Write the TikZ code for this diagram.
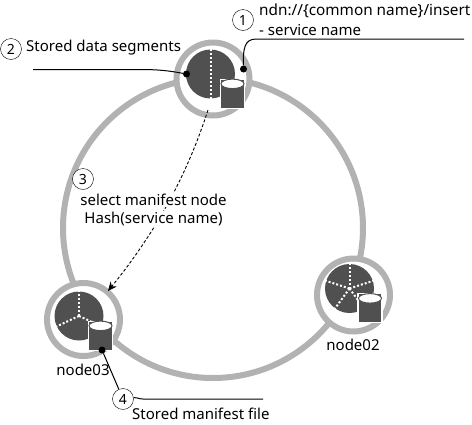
\documentclass[tikz,border=0pt]{standalone}
\usepackage{fontspec}
\setmainfont{Noto Sans}
\usetikzlibrary{shapes.geometric,arrows.meta}
\definecolor{ringgray}{HTML}{B2B2B2}
\definecolor{piegray}{HTML}{505050}
\tikzset{
  ring/.style={circle,draw=ringgray,line width=6pt,fill=white,minimum size=73pt,inner sep=0pt},
  pie/.style={circle,fill=piegray,minimum size=49pt,inner sep=0pt},
  spoke/.style={draw=white,line width=2pt,dash pattern=on 2pt off 2pt},
  can/.style={cylinder,shape border rotate=90,aspect=1.3,minimum width=24pt,minimum height=29pt,inner sep=0pt,
    draw=white,line width=1.2pt,fill=piegray},
  cancap/.style={ellipse,anchor=north,minimum width=23pt,minimum height=9.5pt,inner sep=0pt,
    draw=piegray,line width=1pt,fill=white},
  badge/.style={circle,draw,fill=white,minimum size=21pt,inner sep=0pt,font=\fontsize{14}{14}\selectfont},
  lbl/.style={font=\fontsize{15}{15}\selectfont,inner sep=0pt},
  lblfill/.style={lbl,inner sep=1pt,fill=white},
  dot/.style={circle,fill=black,minimum size=7pt,inner sep=0pt},
  leader/.style={draw=black,line width=1pt}
}
\begin{document}
\begin{tikzpicture}[x=1pt,y=-1pt]
\useasboundingbox (0,0) rectangle (472,424);
\node[circle,draw=ringgray,line width=6pt,minimum size=300pt,inner sep=0pt] (bigring) at (213,228) {};
% top node
\node[ring] (ring01) at (213,79) {};
\node[pie] (pie01) at (210.5,74) {};
\draw[spoke] (pie01.north) -- (pie01.south);
\node[can] (can01) at (232.5,94) {};
\node[cancap] (cap01) at (can01.north) {};
% node02
\node[ring] (ring02) at (353.5,295) {};
\node[pie] (pie02) at (349.5,288.5) {};
\foreach \a in {90,162,18,234,-54} \draw[spoke] (pie02.center) -- (pie02.\a);
\node[can] (can02) at (370,308.5) {};
\node[cancap] (cap02) at (can02.north) {};
% node03
\node[ring] (ring03) at (83.5,319.5) {};
\node[pie] (pie03) at (79,316) {};
\foreach \a in {90,205,-25} \draw[spoke] (pie03.center) -- (pie03.\a);
\node[can] (can03) at (100.5,336) {};
\node[cancap] (cap03) at (can03.north) {};
% arrow goes under the text
\coordinate (s3) at (208,110);
\coordinate (e3) at (108,291);
\draw[-{Stealth[length=9pt,width=8pt]},dash pattern=on 3pt off 2pt,line width=0.9pt] (s3) .. controls (195,150) and (170,215) .. (e3);
% labels
\node[lbl] (name02) at (353,345) {node02};
\node[lbl] (name03) at (83,370) {node03};
\node[badge] (b1) at (243,20) {1};
\node[badge] (b2) at (11,49) {2};
\node[badge] (b3) at (83,179) {3};
\node[badge] (b4) at (123,399) {4};
\node[lbl,anchor=west,font=\fontsize{15.3}{15}\selectfont] (t1a) at (259,11) {ndn://\{common name\}/insert};
\node[lbl,anchor=west] (t1b) at (259,30) {- service name};
\node[lbl,anchor=west] (t2) at (26,48) {Stored data segments};
\node[lblfill] (t3a) at (153.5,200) {select manifest node};
\node[lblfill] (t3b) at (153.5,219) {Hash(service name)};
\node[lbl,anchor=west] (t4) at (132,414) {Stored manifest file};
% leaders
\node[dot] (d1) at (243.5,69) {};
\node[dot] (d2) at (186.5,74) {};
\node[dot] (d4) at (102,350) {};
\coordinate (e1) at (464,39);
\coordinate (e2) at (33,69.5);
\coordinate (e4) at (263,399);
\draw[leader] (d1) .. controls (243,50) and (244,39) .. (256,39) -- (e1);
\draw[leader] (d2) .. controls (170,71) and (160,69.5) .. (140,69.5) -- (e2);
\draw[leader] (d4) -- (b4);
\draw[leader] (b4) .. controls (137,397) and (138,399) .. (143,399) -- (e4);
\end{tikzpicture}
\end{document}
